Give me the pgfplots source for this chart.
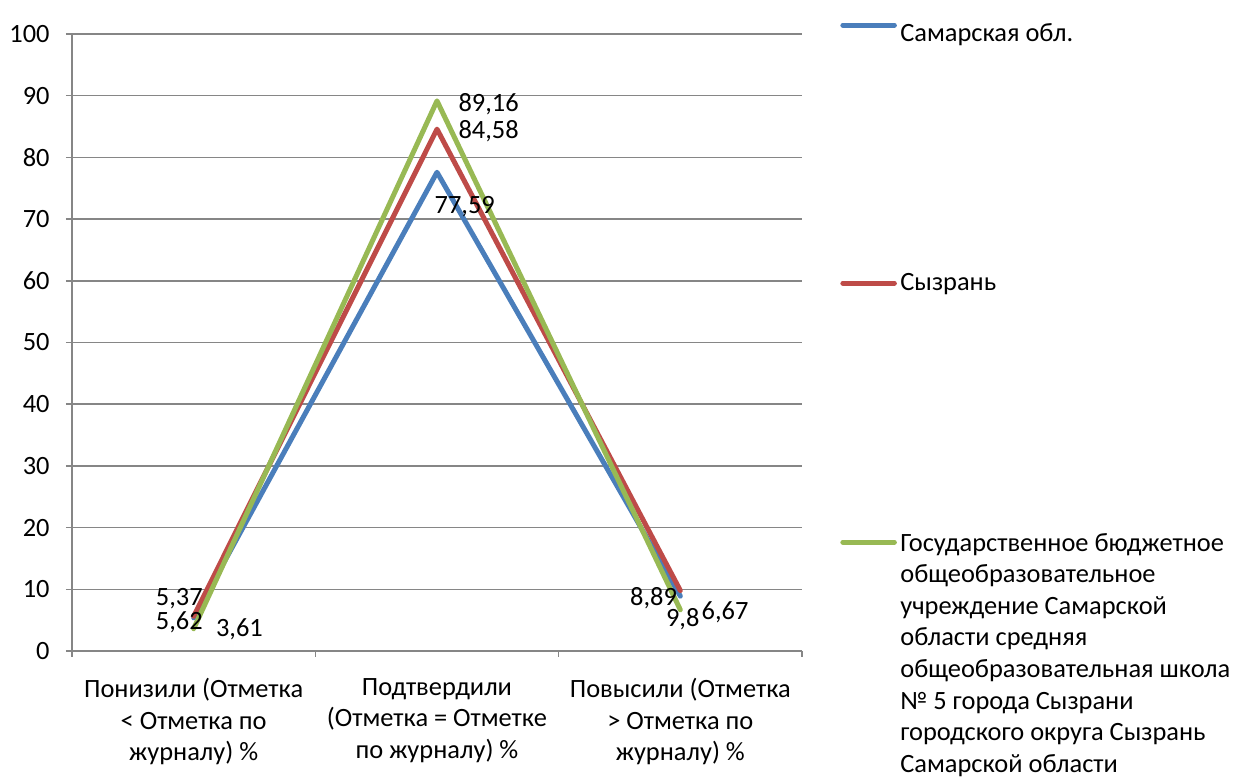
\documentclass[border=0pt]{standalone}
\usepackage{pgfplots}
\pgfplotsset{compat=1.18}
\usepackage{fontspec}
\setmainfont{Carlito}
\definecolor{sblue}{HTML}{4A7EBB}
\definecolor{sred}{HTML}{BE4B48}
\definecolor{sgreen}{HTML}{98B954}
\definecolor{gridgray}{HTML}{868686}
\newcommand\fs{\fontsize{13.2}{15.8}\selectfont}
\pgfplotsset{
  legA/.style={legend image code/.code={\draw[##1] (1.25pt,8.3pt) -- (27pt,8.3pt);}},
  legB/.style={legend image code/.code={\draw[##1] (1.25pt,3.8pt) -- (27pt,3.8pt);}},
  legC/.style={legend image code/.code={\draw[##1] (1.25pt,4.5pt) -- (27pt,4.5pt);}},
}
\begin{document}
\fs
\begin{tikzpicture}
\useasboundingbox (0,0) rectangle (618pt,390pt);
\begin{axis}[
  at={(36pt,64.5pt)}, anchor=south west,
  scale only axis, width=365pt, height=308.5pt,
  xmin=-0.5, xmax=2.5, ymin=0, ymax=100,
  axis x line=bottom, axis y line=left,
  axis line style={-, gridgray, line width=0.75pt},
  ytick={0,10,...,100},
  ymajorgrids, grid style={gridgray, line width=0.75pt},
  tick align=outside,
  major tick length=3pt,
  tick style={gridgray, line width=0.75pt},
  xtick={-0.5,0.5,1.5,2.5},
  xticklabels={},
  extra x ticks={0,1,2},
  extra x tick labels={{Понизили (Отметка\\< Отметка по\\журналу) \%},{Подтвердили\\(Отметка = Отметке\\по журналу) \%},{Повысили (Отметка\\> Отметка по\\журналу) \%}},
  extra x tick style={major tick length=0pt, grid=none},
  xticklabel style={align=center, font=\fs, text=black, inner sep=0pt, anchor=north, yshift=-13.5pt},
  yticklabel style={font=\fs, text=black, inner sep=0pt, anchor=east, xshift=-8pt},
  /pgf/number format/assume math mode=true,
  legend style={at={(axis description cs:1.052,1.019)}, anchor=north west, draw=none, fill=none,
    inner sep=0pt, row sep=113.5pt, column sep=1.75pt,
    cells={anchor=base west},
    nodes={inner sep=0pt, font=\fs}},
  clip=false,
]
\addplot[sblue, line width=2.5pt, line join=round, line cap=round, legA] coordinates {(0,5.37) (1,77.59) (2,8.89)};
\addlegendentry{\rule[-3pt]{0pt}{12pt}Самарская обл.}
\addplot[sred, line width=2.5pt, line join=round, line cap=round, legB] coordinates {(0,5.62) (1,84.58) (2,9.8)};
\addlegendentry{\rule[-3pt]{0pt}{12pt}Сызрань}
\addplot[sgreen, line width=2.5pt, line join=round, line cap=round, legC] coordinates {(0,3.61) (1,89.16) (2,6.67)};
\addlegendentry{\parbox[t]{170pt}{\raggedright\rule{0pt}{14.7pt}Государственное бюджетное\\общеобразовательное\\учреждение Самарской\\области средняя\\общеобразовательная школа\\№ 5 города Сызрани\\городского округа Сызрань\\Самарской области}}
\node[anchor=base, inner sep=0pt] at (axis cs:1.212,87.45) {89,16};
\node[anchor=base, inner sep=0pt] at (axis cs:1.212,82.99) {84,58};
\node[anchor=base, inner sep=0pt] at (axis cs:1.114,70.97) {77,59};
\node[anchor=base, inner sep=0pt] at (axis cs:-0.059,7.42) {5,37};
\node[anchor=base, inner sep=0pt] at (axis cs:-0.059,3.45) {5,62};
\node[anchor=base, inner sep=0pt] at (axis cs:0.188,2.37) {3,61};
\node[anchor=base, inner sep=0pt] at (axis cs:1.890,7.42) {8,89};
\node[anchor=base, inner sep=0pt] at (axis cs:2.010,4.05) {9,8};
\node[anchor=base, inner sep=0pt] at (axis cs:2.184,5.17) {6,67};
\end{axis}
\end{tikzpicture}
\end{document}
